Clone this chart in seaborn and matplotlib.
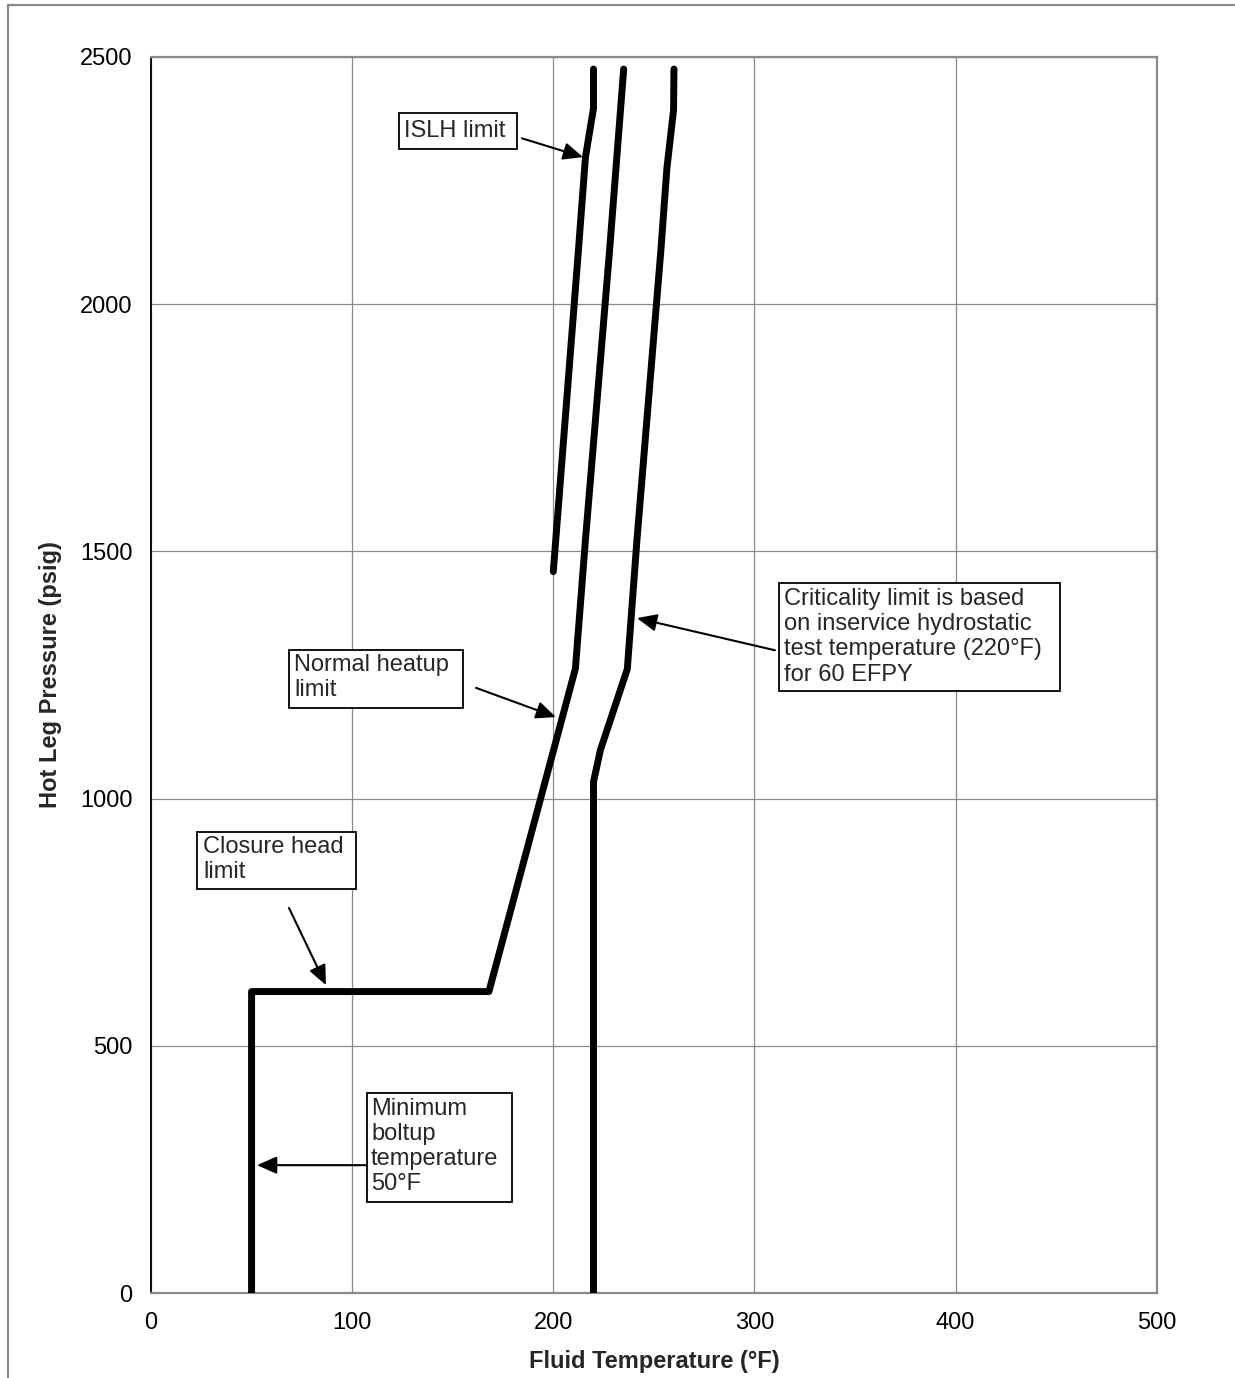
import numpy as np
import pandas as pd
import matplotlib
matplotlib.use("Agg")
import matplotlib.pyplot as plt
from matplotlib.patches import Rectangle
from matplotlib.lines import Line2D
import seaborn as sns

# Normal heatup limit (boltup and closure head segments included)
heatup_temp = [50, 50, 168, 211, 216, 228, 235]
heatup_press = [0, 610, 610, 1263, 1524, 2109, 2475]

# Inservice leak and hydrostatic (ISLH) test limit
islh_temp = [200, 212.5, 216.0, 220, 220]
islh_press = [1459, 2109, 2297, 2396, 2475]

# Criticality limit
crit_temp = [220, 220, 223.4, 236.8, 241.6, 253.5, 256.5, 259.8, 260]
crit_press = [0, 1034, 1098, 1262, 1523, 2109, 2275, 2392, 2475]

x_ticks = [0, 100, 200, 300, 400, 500]
y_ticks = [0, 500, 1000, 1500, 2000, 2500]

sns.set_style("white")
plt.rcParams["font.family"] = ["Liberation Sans", "DejaVu Sans"]

fig = plt.figure(figsize=(12.35, 13.78), dpi=100)
ax = fig.add_axes([0.12227, 0.06147, 0.81433, 0.89738])

curves = [(heatup_temp, heatup_press), (islh_temp, islh_press), (crit_temp, crit_press)]
for t, p in curves:
    df = pd.DataFrame({"temp": t, "press": p})
    sns.lineplot(data=df, x="temp", y="press", sort=False, estimator=None,
                 color="black", lw=5.0, ax=ax, zorder=4,
                 solid_capstyle="round", solid_joinstyle="round")

ax.set_xlim(0, 500)
ax.set_ylim(0, 2500)
ax.set_xticks(x_ticks)
ax.set_yticks(y_ticks)
ax.grid(True, color="#8a8a8a", lw=0.9)
ax.set_axisbelow(True)

for side in ["top", "right", "bottom"]:
    ax.spines[side].set_color("#8a8a8a")
    ax.spines[side].set_linewidth(1.6)
ax.spines["left"].set_color("black")
ax.spines["left"].set_linewidth(1.3)

ax.tick_params(axis="both", direction="out", length=5.5, width=1,
               color="black", labelsize=17, labelcolor="black")
ax.tick_params(axis="y", pad=8)
ax.tick_params(axis="x", pad=8)

ax.set_xlabel("Fluid Temperature (°F)", fontsize=17, fontweight="bold")
ax.set_ylabel("Hot Leg Pressure (psig)", fontsize=17, fontweight="bold")
ax.xaxis.set_label_coords(0.5, -0.046)
ax.yaxis.set_label_coords(-0.0885, 0.5)


def callout(text, box, text_pos, arrow_from, arrow_to):
    x0, x1, y0, y1 = box
    ax.add_patch(Rectangle((x0, y0), x1 - x0, y1 - y0, facecolor="white",
                           edgecolor="black", lw=1.3, zorder=5, clip_on=False))
    ax.text(text_pos[0], text_pos[1], text, ha="left", va="center",
            fontsize=17, linespacing=1.18, zorder=6)
    ax.annotate("", xy=arrow_to, xytext=arrow_from, zorder=6,
                arrowprops=dict(arrowstyle="-|>,head_length=0.5,head_width=0.22",
                                color="black", lw=1.5,
                                mutation_scale=24, shrinkA=0, shrinkB=0))


callout("ISLH limit", (123.3, 182.0, 2313, 2386), (126.0, 2349),
        (184.4, 2335), (214.8, 2297))
callout("Normal heatup\nlimit", (68.6, 155.1, 1183, 1300), (71.1, 1244),
        (161.6, 1224), (201.3, 1165))
callout("Closure head\nlimit", (22.9, 101.9, 818, 932), (25.9, 877),
        (68.6, 779), (87.0, 623))
callout("Criticality limit is based\non inservice hydrostatic\n"
        "test temperature (220°F)\nfor 60 EFPY",
        (312.2, 451.9, 1218, 1436), (314.7, 1327),
        (310.2, 1300), (241.6, 1365))
callout("Minimum\nboltup\ntemperature\n50°F", (107.4, 179.5, 185, 405),
        (109.4, 296), (107.4, 259), (52.7, 259))

# Outer frame
fig.add_artist(Line2D([0.0065, 1.0], [0.99637, 0.99637], color="#8a8a8a",
                      lw=1.6, transform=fig.transFigure))
fig.add_artist(Line2D([0.0065, 0.0065], [0.0, 0.99637], color="#8a8a8a",
                      lw=1.6, transform=fig.transFigure))

fig.savefig("out.png", dpi=100)
